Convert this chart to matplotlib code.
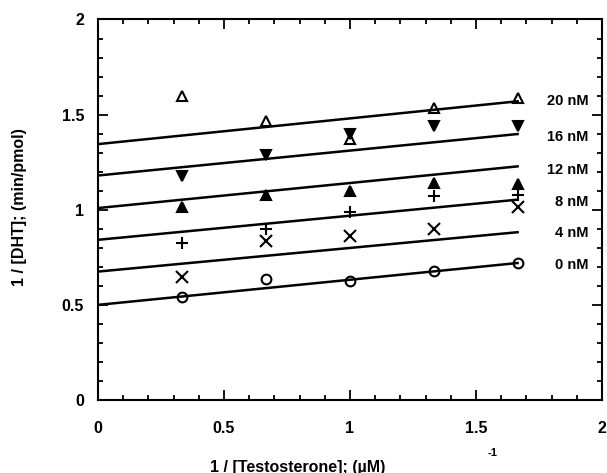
import numpy as np
import matplotlib
matplotlib.use("Agg")
import matplotlib.pyplot as plt
from matplotlib.ticker import MultipleLocator

plt.rcParams['font.family'] = ['Liberation Sans', 'DejaVu Sans']

x = [1/3, 2/3, 1.0, 4/3, 5/3]
conc_labels = ["0 nM", "4 nM", "8 nM", "12 nM", "16 nM", "20 nM"]
y_0nM = [0.539, 0.637, 0.626, 0.679, 0.719]
y_4nM = [0.644, 0.838, 0.863, 0.898, 1.017]
y_8nM = [0.824, 0.900, 0.988, 1.070, 1.075]
y_12nM = [1.017, 1.080, 1.096, 1.140, 1.137]
y_16nM = [1.175, 1.290, 1.400, 1.440, 1.440]
y_20nM = [1.596, 1.465, 1.370, 1.537, 1.589]
series = [y_0nM, y_4nM, y_8nM, y_12nM, y_16nM, y_20nM]

line_intercepts = [0.500, 0.675, 0.842, 1.009, 1.180, 1.345]
line_ends = [0.720, 0.882, 1.053, 1.228, 1.398, 1.570]
line_x_end = 1.665
label_y = [0.71, 0.88, 1.04, 1.21, 1.38, 1.57]

markers = [dict(marker='o', mfc='none'), dict(marker='x', mfc='none'),
           dict(marker='+', mfc='none'), dict(marker='^', mfc='black'),
           dict(marker='v', mfc='black'), dict(marker='^', mfc='none')]

fig = plt.figure(figsize=(6.07, 4.73), dpi=100)
ax = fig.add_axes([0.1614, 0.1543, 0.8304, 0.8045])

for ys, m, b, e, lab, ly in zip(series, markers, line_intercepts, line_ends, conc_labels, label_y):
    ax.plot([0, line_x_end], [b, e], color='black', lw=1.8)
    ms = 8 if m['marker'] in ('x', '+') else 7
    ax.plot(x, ys, linestyle='none', marker=m['marker'], mfc=m['mfc'], mec='black',
            mew=1.5, ms=ms, color='black')
    ax.text(1.945, ly, lab, ha='right', va='center', fontsize=10.5, fontweight='bold')

ax.set_xlim(0, 2)
ax.set_ylim(0, 2)
ax.xaxis.set_minor_locator(MultipleLocator(0.1))
ax.yaxis.set_minor_locator(MultipleLocator(0.1))
ax.set_xticks([0, 0.5, 1, 1.5, 2])
ax.set_xticklabels(['0', '0.5', '1', '1.5', '2'])
ax.set_yticks([0, 0.5, 1, 1.5, 2])
ax.set_yticklabels(['0', '0.5', '1', '1.5', '2'])
ax.tick_params(which='both', direction='in', top=True, right=True, width=1.3)
ax.tick_params(which='major', length=7, labelsize=11.5)
ax.tick_params(axis='x', which='major', pad=15)
ax.tick_params(axis='y', which='major', pad=10)
ax.tick_params(which='minor', length=3.5)
for lbl in ax.get_xticklabels() + ax.get_yticklabels():
    lbl.set_fontweight('bold')
for s in ax.spines.values():
    s.set_linewidth(1.5)

fig.text(298/607, 1 - 467/473, "1 / [Testosterone]; (\u00b5M)", ha='center', va='center',
         fontsize=11.5, fontweight='bold')
fig.text(493/607, 1 - 453/473, "-1", ha='center', va='center', fontsize=8, fontweight='bold')
fig.text(20/607, 1 - 207/473, "1 / [DHT]; (min/pmol)", ha='center', va='center',
         rotation=90, fontsize=11.5, fontweight='bold')

fig.savefig("out.png", dpi=100)
